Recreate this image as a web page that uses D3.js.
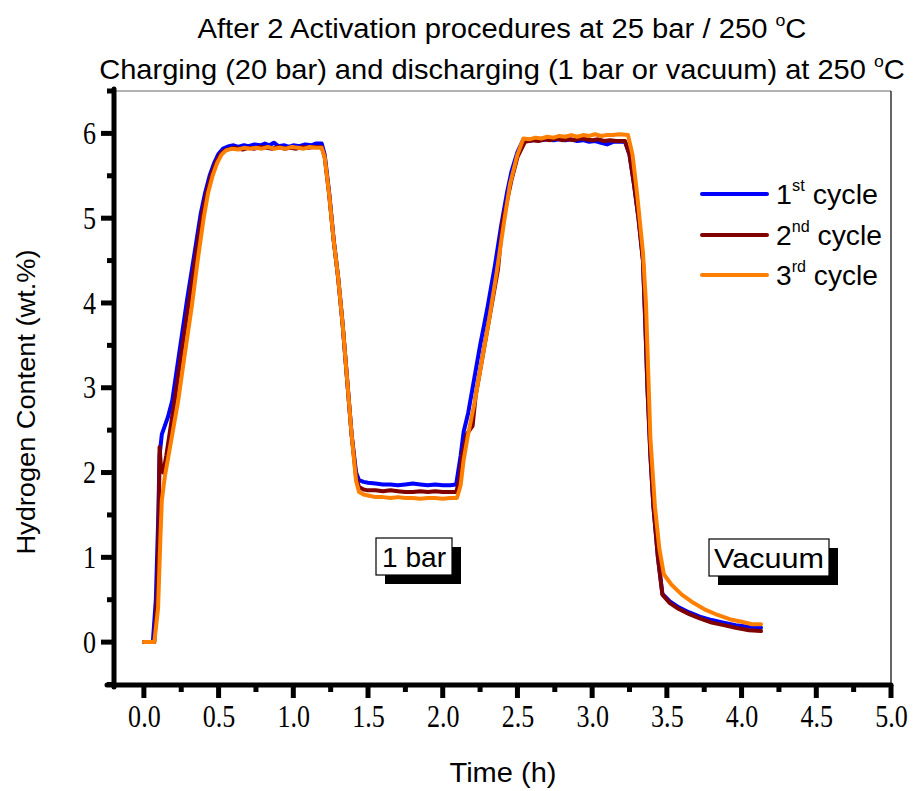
<!DOCTYPE html>
<html>
<head>
<meta charset="utf-8">
<script src="https://cdn.jsdelivr.net/npm/d3@7"></script>
<style>
html,body{margin:0;padding:0;background:#fff;}
svg{display:block;}
</style>
</head>
<body>
<svg id="chart" width="917" height="791"></svg>
<script>
// ---------- DATA ----------
const titleLine1 = "After 2 Activation procedures at 25 bar / 250 ";
const titleLine2 = "Charging (20 bar) and discharging (1 bar or vacuum) at 250 ";
const xLabel = "Time (h)";
const yLabel = "Hydrogen Content (wt.%)";
const xTicks = [0, 0.5, 1.0, 1.5, 2.0, 2.5, 3.0, 3.5, 4.0, 4.5, 5.0];
const yTicks = [0, 1, 2, 3, 4, 5, 6];
const seriesNames = ["1", "2", "3"];
const seriesSup = ["st", "nd", "rd"];
const seriesColors = ["#0000ff", "#800000", "#ff8000"];

// cycle 1 [time h, wt.%]
const cycle1 = [[0,0],[0.06,0],[0.08,0.5],[0.095,1.4],[0.105,2.2],[0.12,2.45],[0.14,2.55],[0.16,2.65],[0.19,2.85],[0.24,3.45],[0.29,4.05],[0.34,4.6],[0.38,5.05],[0.41,5.3],[0.44,5.5],[0.47,5.65],[0.5,5.76],[0.53,5.82],[0.57,5.85],[0.6,5.86],[0.63,5.84],[0.67,5.86],[0.7,5.85],[0.74,5.87],[0.78,5.86],[0.81,5.88],[0.84,5.86],[0.87,5.89],[0.9,5.85],[0.94,5.86],[0.97,5.84],[1.0,5.86],[1.04,5.85],[1.08,5.87],[1.12,5.86],[1.15,5.88],[1.19,5.88],[1.21,5.75],[1.24,5.3],[1.27,4.75],[1.30,4.3],[1.33,3.75],[1.36,3.1],[1.39,2.45],[1.42,2.0],[1.44,1.91],[1.47,1.89],[1.5,1.88],[1.55,1.87],[1.6,1.86],[1.65,1.86],[1.7,1.85],[1.75,1.86],[1.8,1.87],[1.85,1.86],[1.9,1.85],[1.95,1.86],[2.0,1.85],[2.05,1.85],[2.09,1.86],[2.12,2.2],[2.14,2.48],[2.17,2.7],[2.2,3.0],[2.25,3.5],[2.3,3.95],[2.35,4.45],[2.39,4.9],[2.43,5.3],[2.46,5.55],[2.5,5.78],[2.54,5.93],[2.58,5.91],[2.62,5.93],[2.66,5.92],[2.7,5.93],[2.74,5.92],[2.78,5.93],[2.82,5.92],[2.86,5.93],[2.9,5.91],[2.94,5.92],[2.98,5.9],[3.02,5.91],[3.06,5.89],[3.1,5.87],[3.14,5.9],[3.18,5.9],[3.22,5.9],[3.25,5.75],[3.28,5.4],[3.31,5.0],[3.34,4.5],[3.355,3.8],[3.37,3.0],[3.39,2.2],[3.41,1.6],[3.44,1.0],[3.47,0.57],[3.52,0.48],[3.58,0.41],[3.65,0.35],[3.72,0.3],[3.8,0.26],[3.88,0.23],[3.96,0.2],[4.05,0.18],[4.13,0.17]];

// cycle 2
const cycle2 = [[0,0],[0.07,0],[0.09,0.6],[0.1,1.5],[0.105,2.3],[0.115,2.05],[0.13,2.0],[0.15,2.2],[0.18,2.55],[0.21,2.9],[0.25,3.4],[0.3,4.0],[0.35,4.6],[0.39,5.05],[0.42,5.3],[0.45,5.5],[0.48,5.65],[0.51,5.75],[0.54,5.8],[0.58,5.82],[0.62,5.83],[0.66,5.81],[0.7,5.83],[0.74,5.82],[0.78,5.84],[0.82,5.83],[0.86,5.82],[0.9,5.84],[0.94,5.82],[0.98,5.83],[1.02,5.82],[1.06,5.84],[1.1,5.83],[1.14,5.84],[1.19,5.84],[1.21,5.72],[1.24,5.28],[1.27,4.74],[1.30,4.3],[1.33,3.75],[1.36,3.1],[1.39,2.45],[1.42,1.95],[1.44,1.83],[1.47,1.8],[1.5,1.79],[1.55,1.79],[1.6,1.78],[1.65,1.79],[1.7,1.78],[1.75,1.77],[1.8,1.77],[1.85,1.78],[1.9,1.77],[1.95,1.78],[2.0,1.77],[2.05,1.77],[2.09,1.77],[2.11,1.9],[2.13,2.2],[2.16,2.45],[2.2,2.55],[2.22,2.9],[2.27,3.4],[2.32,3.9],[2.37,4.4],[2.4,4.95],[2.43,5.2],[2.46,5.45],[2.5,5.72],[2.55,5.9],[2.6,5.92],[2.64,5.91],[2.68,5.93],[2.72,5.92],[2.76,5.94],[2.8,5.92],[2.84,5.93],[2.88,5.92],[2.92,5.94],[2.96,5.93],[3.0,5.92],[3.04,5.93],[3.08,5.91],[3.12,5.92],[3.16,5.91],[3.22,5.91],[3.25,5.75],[3.28,5.4],[3.31,5.0],[3.34,4.5],[3.355,3.8],[3.37,3.0],[3.39,2.2],[3.41,1.6],[3.44,1.0],[3.47,0.56],[3.52,0.46],[3.58,0.39],[3.65,0.33],[3.72,0.28],[3.8,0.23],[3.88,0.2],[3.96,0.17],[4.05,0.14],[4.13,0.13]];

// cycle 3
const cycle3 = [[0,0],[0.07,0],[0.095,0.4],[0.11,1.2],[0.12,1.67],[0.14,1.95],[0.17,2.25],[0.2,2.55],[0.23,2.85],[0.27,3.35],[0.32,3.95],[0.36,4.5],[0.4,5.0],[0.43,5.3],[0.46,5.5],[0.49,5.65],[0.52,5.75],[0.55,5.8],[0.59,5.82],[0.63,5.81],[0.67,5.83],[0.71,5.82],[0.75,5.83],[0.79,5.82],[0.83,5.84],[0.87,5.82],[0.91,5.83],[0.95,5.82],[0.99,5.84],[1.03,5.83],[1.07,5.82],[1.11,5.84],[1.15,5.83],[1.19,5.83],[1.21,5.72],[1.24,5.28],[1.27,4.74],[1.30,4.3],[1.33,3.75],[1.36,3.1],[1.39,2.45],[1.42,1.9],[1.44,1.77],[1.47,1.74],[1.5,1.73],[1.55,1.71],[1.6,1.71],[1.65,1.7],[1.7,1.71],[1.75,1.7],[1.8,1.7],[1.85,1.69],[1.9,1.7],[1.95,1.7],[2.0,1.69],[2.05,1.7],[2.095,1.7],[2.12,1.85],[2.14,2.15],[2.17,2.45],[2.21,2.8],[2.26,3.3],[2.31,3.8],[2.36,4.35],[2.41,4.95],[2.45,5.4],[2.5,5.75],[2.54,5.94],[2.58,5.93],[2.62,5.95],[2.66,5.94],[2.7,5.96],[2.74,5.95],[2.78,5.97],[2.82,5.96],[2.86,5.98],[2.9,5.96],[2.94,5.98],[2.98,5.97],[3.02,5.99],[3.06,5.97],[3.1,5.98],[3.14,5.98],[3.18,5.99],[3.24,5.98],[3.27,5.75],[3.3,5.3],[3.34,4.6],[3.36,4.0],[3.375,3.2],[3.39,2.4],[3.42,1.6],[3.45,1.1],[3.48,0.8],[3.53,0.68],[3.6,0.56],[3.68,0.46],[3.76,0.38],[3.84,0.32],[3.92,0.27],[4.0,0.24],[4.07,0.21],[4.13,0.21]];

const allSeries = [cycle1, cycle2, cycle3];
const annotations = ["1 bar", "Vacuum"];

// ---------- CHART ----------
const svg = d3.select("#chart");
const x = d3.scaleLinear().domain([-0.2, 5.0]).range([114, 891]);
const y = d3.scaleLinear().domain([-0.5, 6.5]).range([684.5, 91]);

const serif = "'Liberation Serif','Times New Roman',serif";
const sans = "'Liberation Sans',Arial,sans-serif";

function squeeze(sel, target) {
  sel.attr("textLength", target).attr("lengthAdjust", "spacingAndGlyphs");
}
function scaleGroup(g, cx, target) {
  const w = g.node().getBBox().width;
  g.attr("transform", `translate(${cx},0) scale(${target / w},1) translate(${-cx},0)`);
}

// frame (top/right thin)
svg.append("line").attr("x1",114).attr("x2",891).attr("y1",91).attr("y2",91).attr("stroke","#666").attr("stroke-width",1.2);
svg.append("line").attr("x1",891).attr("x2",891).attr("y1",91).attr("y2",685).attr("stroke","#000").attr("stroke-width",1.2);

// lines
const line = d3.line().x(d => x(d[0])).y(d => y(d[1]));
allSeries.forEach((s, i) => {
  svg.append("path").datum(s).attr("d", line)
    .attr("fill","none").attr("stroke", seriesColors[i])
    .attr("stroke-width",4).attr("stroke-linejoin","round").attr("stroke-linecap","round");
});

// axes (labels via d3 axis, tick marks drawn explicitly for thickness)
const xMinor = d3.range(0.25, 5.0, 0.5);
const yMinor = d3.range(-0.5, 6.6, 1);

const gx = svg.append("g").attr("transform","translate(0,685)")
  .call(d3.axisBottom(x).tickValues(xTicks).tickSize(12).tickPadding(7).tickFormat(d3.format(".1f")));
gx.select(".domain").remove();
gx.selectAll(".tick line").remove();

const gy = svg.append("g").attr("transform","translate(114,0)")
  .call(d3.axisLeft(y).tickValues(yTicks).tickSize(12).tickPadding(6).tickFormat(d3.format("d")));
gy.select(".domain").remove();
gy.selectAll(".tick line").remove();

svg.selectAll(".tick text").attr("font-family", serif).attr("font-size",31).attr("fill","#000");
gx.selectAll(".tick text").attr("dy","0.74em");
gy.selectAll(".tick text").attr("dy","0.33em");
svg.selectAll(".tick text").each(function() {
  const t = d3.select(this);
  const w = this.getComputedTextLength();
  t.attr("textLength", w * 0.84).attr("lengthAdjust","spacingAndGlyphs");
});

const tk = svg.append("g").attr("stroke","#000").attr("stroke-width",5);
tk.selectAll(".xmaj").data(xTicks).join("line").attr("class","xmaj")
  .attr("x1", d => x(d)).attr("x2", d => x(d)).attr("y1", 685).attr("y2", 698);
tk.selectAll(".xmin").data(xMinor).join("line").attr("class","xmin")
  .attr("x1", d => x(d)).attr("x2", d => x(d)).attr("y1", 685).attr("y2", 692);
tk.selectAll(".ymaj").data(yTicks).join("line").attr("class","ymaj")
  .attr("x1", 101).attr("x2", 114).attr("y1", d => y(d)).attr("y2", d => y(d));
tk.selectAll(".ymin").data(yMinor).join("line").attr("class","ymin")
  .attr("x1", 107).attr("x2", 114).attr("y1", d => y(d)).attr("y2", d => y(d));

// axis lines
svg.append("line").attr("x1",107).attr("x2",891).attr("y1",685).attr("y2",685).attr("stroke","#000").attr("stroke-width",5).attr("stroke-linecap","round");
svg.append("line").attr("x1",114).attr("x2",114).attr("y1",89).attr("y2",687).attr("stroke","#000").attr("stroke-width",5).attr("stroke-linecap","round");

// titles
function titleLine(txt, yPos, target) {
  const g = svg.append("g");
  const t = g.append("text").attr("x",502).attr("y",yPos).attr("text-anchor","middle")
    .attr("font-family",sans).attr("font-size",28).attr("fill","#000");
  t.append("tspan").text(txt);
  t.append("tspan").attr("dy",-12).attr("font-size",17).text("o");
  t.append("tspan").attr("dy",12).text("C");
  scaleGroup(g, 502, target);
}
titleLine(titleLine1, 38, 609);
titleLine(titleLine2, 79, 806);

// axis titles
squeeze(svg.append("text").attr("x",503).attr("y",782).attr("text-anchor","middle")
  .attr("font-family",sans).attr("font-size",27).attr("fill","#000").text(xLabel), 107);
squeeze(svg.append("text").attr("transform","translate(35,402) rotate(-90)").attr("text-anchor","middle")
  .attr("font-family",sans).attr("font-size",25).attr("fill","#000").text(yLabel), 305);

// legend
const legY = [194, 235, 275];
const legW = [102, 106, 102];
seriesNames.forEach((n, i) => {
  svg.append("line").attr("x1",702).attr("x2",767).attr("y1",legY[i]).attr("y2",legY[i])
    .attr("stroke",seriesColors[i]).attr("stroke-width",4).attr("stroke-linecap","round");
  const g = svg.append("g");
  const tx = g.append("text").attr("x",776).attr("y",legY[i]+10)
    .attr("font-family",sans).attr("font-size",28).attr("fill","#000");
  tx.append("tspan").text(n);
  tx.append("tspan").attr("dy",-13).attr("font-size",16).text(seriesSup[i]);
  tx.append("tspan").attr("dy",13).text(" cycle");
  g.attr("transform", `translate(776,0) scale(${legW[i] / g.node().getBBox().width},1) translate(-776,0)`);
});

// annotation boxes
const boxes = [{x:376, y:538, w:76, h:37, tw:64}, {x:709, y:539, w:120, h:37, tw:110}];
annotations.forEach((a, i) => {
  const b = boxes[i];
  svg.append("rect").attr("x",b.x+9).attr("y",b.y+9).attr("width",b.w).attr("height",b.h).attr("fill","#000");
  svg.append("rect").attr("x",b.x).attr("y",b.y).attr("width",b.w).attr("height",b.h)
    .attr("fill","#fff").attr("stroke","#000").attr("stroke-width",1.2);
  squeeze(svg.append("text").attr("x",b.x+b.w/2).attr("y",b.y+b.h/2+10).attr("text-anchor","middle")
    .attr("font-family",sans).attr("font-size",28).attr("fill","#000").text(a), b.tw);
});
</script>
</body>
</html>
